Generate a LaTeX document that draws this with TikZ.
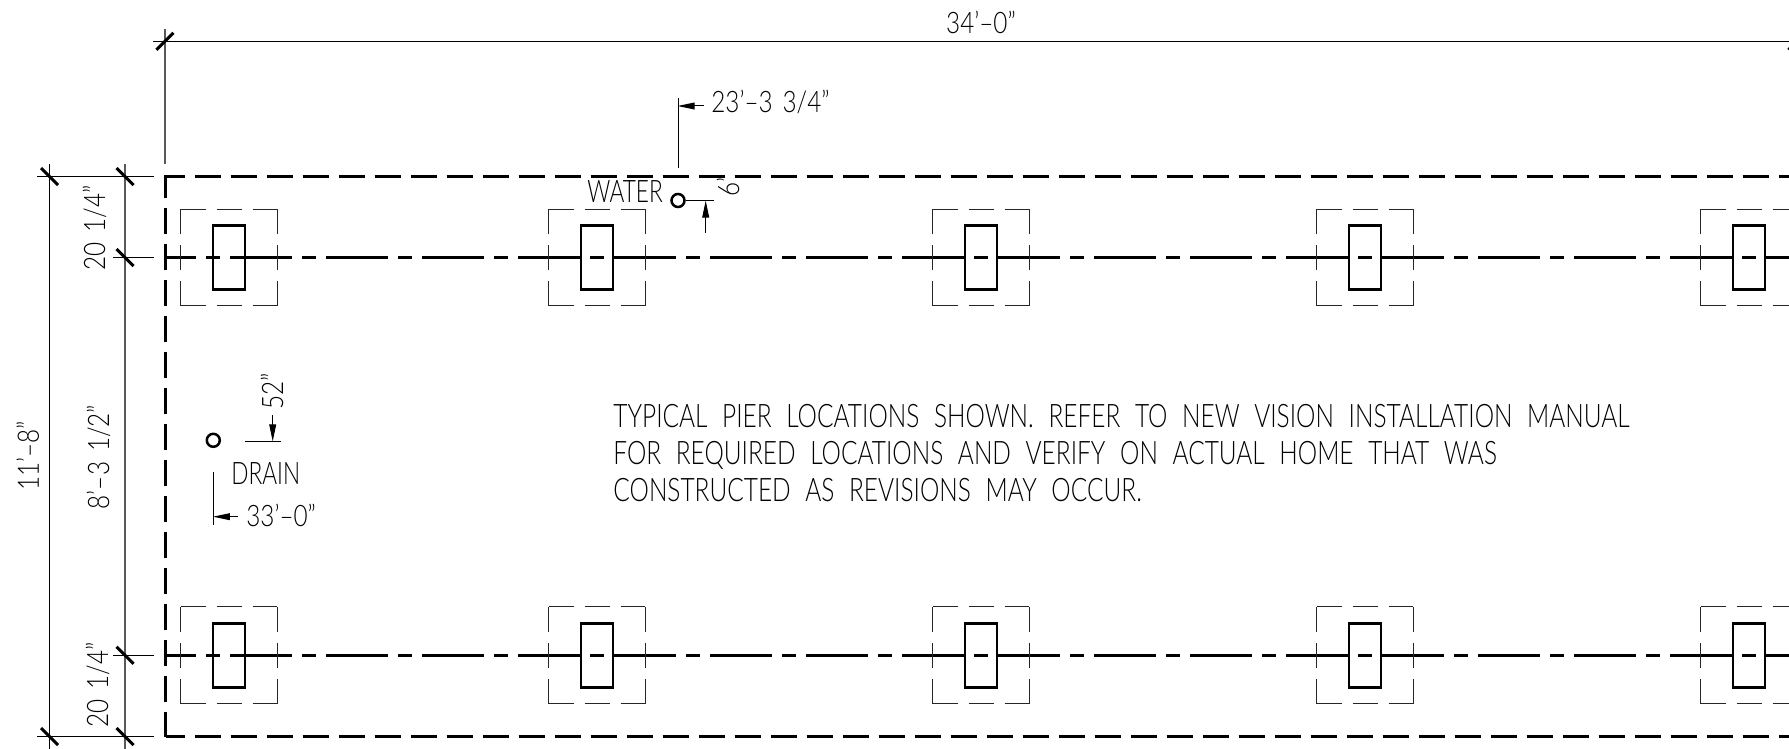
\documentclass[tikz,border=0pt]{standalone}
\usepackage{fontspec}
\usetikzlibrary{arrows.meta}
\newfontfamily\cadfont[FakeStretch=0.82,WordSpace=1.6]{Lato Light}
\newfontfamily\capfont[FakeStretch=0.73,WordSpace=2.2]{Lato Light}
\newfontfamily\notefont[FakeStretch=0.755,WordSpace=2.2]{Lato Light}
\tikzstyle{dimline}=[black,line width=0.5pt]
\tikzstyle{extline}=[black!65,line width=0.6pt]
\tikzstyle{tickline}=[black,line width=1.5pt]
\tikzstyle{wallline}=[black,line width=1.5pt,
                      dash pattern=on 13pt off 5pt]
\tikzstyle{centline}=[black,line width=1.5pt,
                      dash pattern=on 31pt off 5pt on 7pt off 5pt,
                      dash phase=15.5pt]
\tikzstyle{padline}=[black!85,line width=0.5pt,
                     dash pattern=on 12.5pt off 5.5pt]
\tikzstyle{piernode}=[rectangle,draw=black,line width=1.25pt,
                      inner sep=0pt,minimum width=16pt,minimum height=32pt]
\tikzstyle{padnode}=[rectangle,inner sep=0pt,minimum size=48pt]
\tikzstyle{pipenode}=[circle,draw=black,line width=1.25pt,
                      inner sep=0pt,minimum size=6.5pt]
\tikzstyle{leader}=[black,line width=0.5pt,
                    -{Triangle[length=8.5pt,width=3.4pt]},shorten >=-0.2pt]
\tikzstyle{dimtext}=[inner sep=0pt,text=black,
                     font=\cadfont\fontsize{14.8}{16}\selectfont]
\tikzstyle{captext}=[inner sep=0pt,text=black,
                     font=\capfont\fontsize{15.5}{18}\selectfont]
\tikzstyle{notetext}=[inner sep=0pt,text=black,align=left,
                      font=\notefont\fontsize{16.2}{18.4}\selectfont]

\begin{document}
\begin{tikzpicture}[x=0.5pt,y=-0.5pt]
    \path[use as bounding box,clip] (0,0) rectangle (1789,749);
    \newcommand{\tk}{8.5}
    \newcommand{\gp}{\hspace{5pt}}

    \coordinate (wtl) at (165.5,176.5);
    \coordinate (wtr) at (1797,176.5);
    \coordinate (wbl) at (165.5,736.5);
    \coordinate (wbr) at (1797,736.5);
    \draw[wallline,dash phase=3.5pt] (wtl) -- (wtr);
    \draw[wallline,dash phase=3.5pt] (wbl) -- (wbr);
    \draw[wallline,dash phase=1.5pt] (165.5,175) -- (wbl);

    \coordinate (c1a) at (165,257.5);
    \coordinate (c1b) at (1797,257.5);
    \coordinate (c2a) at (165,655.3);
    \coordinate (c2b) at (1797,655.3);
    \draw[centline] (c1a) -- (c1b);
    \draw[centline] (c2a) -- (c2b);

    \foreach \n/\x in {1/229,2/597,3/981,4/1365,5/1749} {
      \foreach \r/\y in {t/257.5,b/655.3} {
        \node (p\r\n) at (\x,\y) [piernode]{};
        \node (o\r\n) at (\x,\y) [padnode]{};
        \draw[padline] (o\r\n.north west) -- (o\r\n.north east)
                       (o\r\n.north east) -- (o\r\n.south east)
                       (o\r\n.south west) -- (o\r\n.south east)
                       (o\r\n.north west) -- (o\r\n.south west);
      }
    }

    \coordinate (a1) at (165,41.3);
    \coordinate (a2) at (1797,41.3);
    \coordinate (a0) at (153,41.3);
    \coordinate (a3) at (1809,41.3);
    \coordinate (a4) at (165,29);
    \coordinate (a5) at (165,164);
    \draw[dimline] (a0) -- (a3);
    \draw[extline] (a4) -- (a5);
    \draw[tickline] (a1) ++(-\tk,\tk) -- ++(2*\tk,-2*\tk);
    \draw[tickline] (a2) ++(-\tk,\tk) -- ++(2*\tk,-2*\tk);
    \node (total) at (981,22) [dimtext]{34’–0”};

    \coordinate (d1) at (49.5,176.5);
    \coordinate (d2) at (49.5,736.5);
    \coordinate (d3) at (125,176.5);
    \coordinate (d4) at (125,257.5);
    \coordinate (d5) at (125,655.3);
    \coordinate (d6) at (125,736.5);
    \coordinate (e1) at (37,176.5);
    \coordinate (e2) at (154,176.5);
    \coordinate (e3) at (113,257.5);
    \coordinate (e4) at (154,257.5);
    \coordinate (e5) at (113,655.3);
    \coordinate (e6) at (154,655.3);
    \coordinate (e7) at (37,736.5);
    \coordinate (e8) at (154,736.5);
    \coordinate (v1) at (49.5,164);
    \coordinate (v2) at (49.5,760);
    \coordinate (v3) at (125,164);
    \coordinate (v4) at (125,760);
    \draw[dimline] (e1) -- (e2);
    \draw[dimline] (e3) -- (e4);
    \draw[dimline] (e5) -- (e6);
    \draw[dimline] (e7) -- (e8);
    \draw[dimline] (v1) -- (v2);
    \draw[extline] (v3) -- (v4);
    \foreach \t in {d1,d2,d3,d4,d5,d6} {
      \draw[tickline] (\t) ++(-\tk,-\tk) -- ++(2*\tk,2*\tk);
    }
    \node (dtop) at (105,228) [dimtext,rotate=90,anchor=base]{20\gp 1/4”};
    \node (dmid) at (109,457) [dimtext,rotate=90,anchor=base]{8’–3\gp 1/2”};
    \node (dbot) at (108,685) [dimtext,rotate=90,anchor=base]{20\gp 1/4”};
    \node (dall) at (39,456) [dimtext,rotate=90,anchor=base]{11’–8”};

    \node (water) at (678,200.5) [pipenode]{};
    \node (wlab) at (587,203) [captext,anchor=base west]{WATER};
    \coordinate (w1) at (678,98);
    \coordinate (w2) at (678,168);
    \coordinate (w3) at (703.5,106);
    \coordinate (w4) at (678,106);
    \coordinate (w5) at (714,200.5);
    \coordinate (w6) at (705.7,233);
    \coordinate (w7) at (705.7,201);
    \draw[dimline] (w1) -- (w2);
    \draw[leader] (w3) -- (w4);
    \draw[dimline] (water) -- (w5);
    \draw[leader] (w6) -- (w7);
    \node (wdx) at (711,112.7) [dimtext,anchor=base west]{23’–3\gp 3/4”};
    \node (wdy) at (739,185) [dimtext,rotate=90,anchor=base]{6”};

    \node (drain) at (213.3,440.3) [pipenode]{};
    \node (dlab) at (231,484) [captext,anchor=base west]{DRAIN};
    \coordinate (r1) at (245,441);
    \coordinate (r2) at (281,441);
    \coordinate (r3) at (272.7,415);
    \coordinate (r4) at (272.7,441);
    \coordinate (r5) at (213.3,472);
    \coordinate (r6) at (213.3,525);
    \coordinate (r7) at (238,516.7);
    \coordinate (r8) at (213.3,516.7);
    \draw[dimline] (r1) -- (r2);
    \draw[leader] (r3) -- (r4);
    \draw[dimline] (r5) -- (r6);
    \draw[leader] (r7) -- (r8);
    \node (rdy) at (283,391) [dimtext,rotate=90,anchor=base]{52”};
    \node (rdx) at (246,526) [dimtext,anchor=base west]{33’–0”};

    \node (note) at (613,453) [notetext,anchor=west]{TYPICAL PIER LOCATIONS SHOWN. REFER TO NEW VISION INSTALLATION MANUAL\\
      FOR REQUIRED LOCATIONS AND VERIFY ON ACTUAL HOME THAT WAS\\
      CONSTRUCTED AS REVISIONS MAY OCCUR.};
\end{tikzpicture}
\end{document}
